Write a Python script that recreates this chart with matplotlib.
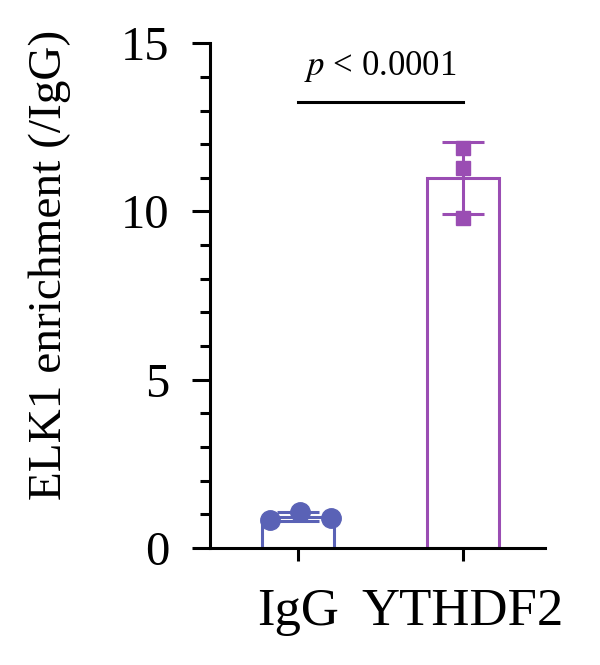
import numpy as np
from matplotlib import pyplot as plt

plt.rcParams['font.family'] = ['Liberation Serif', 'DejaVu Serif']
plt.rcParams['mathtext.fontset'] = 'stix'

groups = ["IgG", "YTHDF2"]
igg_vals = [0.83, 1.07, 0.89]
ythdf2_vals = [11.88, 11.29, 9.80]
colors = ["#5a62b6", "#9a4db3"]
markers = ["o", "s"]
yticks = [0, 5, 10, 15]
p_text = "$p$ < 0.0001"

data = [igg_vals, ythdf2_vals]
x = np.arange(len(groups))
means = [np.mean(d) for d in data]
sds = [np.std(d, ddof=1) for d in data]

fig = plt.figure(figsize=(6, 6.65), dpi=100)
ax = fig.add_axes([0.35, 0.176, 0.558, 0.759])

for i in range(len(groups)):
    ax.bar(x[i], means[i], width=0.44, facecolor="white", edgecolor=colors[i],
           linewidth=2.2, zorder=1)
    ax.errorbar(x[i], means[i], yerr=sds[i], color=colors[i], capsize=15,
                capthick=2.2, elinewidth=2.2, zorder=2)
    offs = np.array([-0.17, 0.01, 0.2]) if i == 0 else np.zeros(3)
    ms = 14 if i == 0 else 10.5
    ax.plot(x[i] + offs, data[i], linestyle="none", marker=markers[i], color=colors[i],
            markersize=ms, zorder=3)

# significance bar
ax.plot([x[0], x[1]], [13.25, 13.25], color="black", lw=2.2, clip_on=False)
ax.text((x[0] + x[1]) / 2, 13.8, p_text, ha="center", va="bottom", fontsize=25)

ax.set_xlim(-0.533, 1.497)
ax.set_ylim(0, 15)
ax.set_yticks(yticks)
ax.set_yticks(np.arange(0, 15.1, 1), minor=True)
ax.set_xticks(x)
ax.set_xticklabels(groups)
ax.spines["top"].set_visible(False)
ax.spines["right"].set_visible(False)
ax.spines["left"].set_linewidth(2.2)
ax.spines["bottom"].set_linewidth(2.2)
ax.tick_params(axis="y", which="major", length=13, width=2.2, labelsize=35, pad=16)
ax.tick_params(axis="y", which="minor", length=7, width=2.2)
ax.tick_params(axis="x", which="major", length=9, width=2.2, labelsize=38, pad=20)
ax.set_ylabel("ELK1 enrichment (/IgG)", fontsize=34)
ax.yaxis.set_label_coords(-0.415, 0.56)

plt.savefig("out.png")
